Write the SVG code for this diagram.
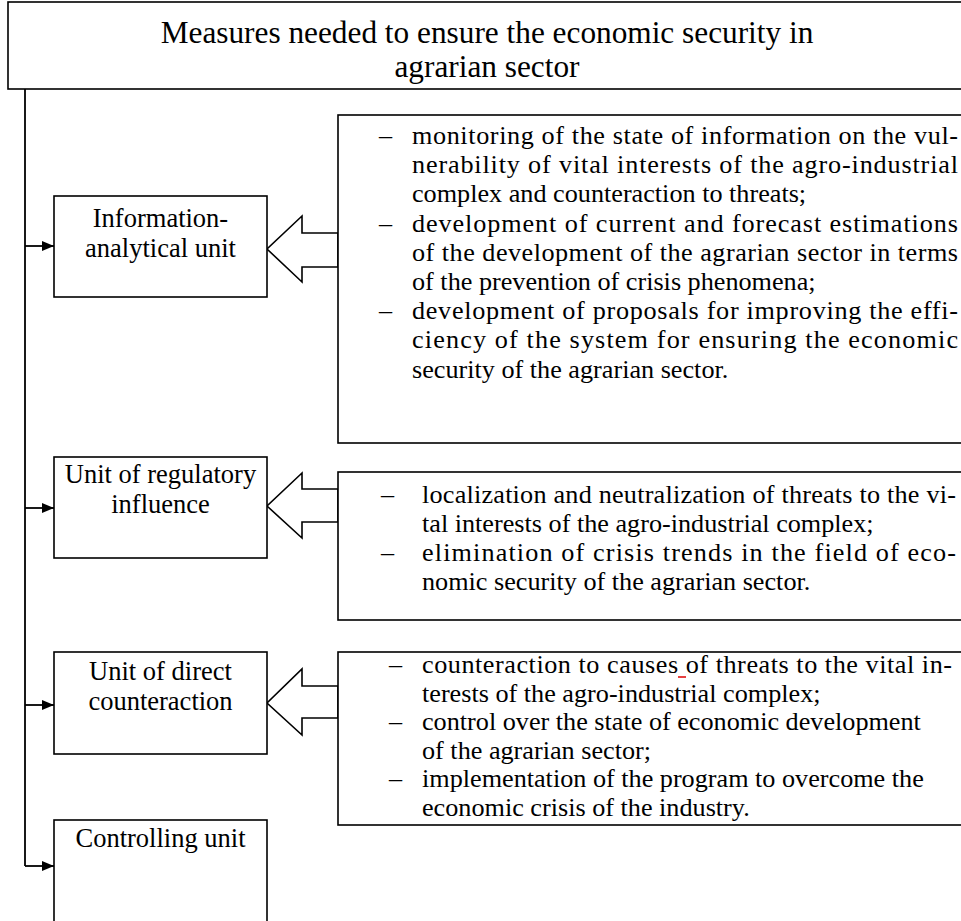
<svg xmlns="http://www.w3.org/2000/svg" width="961" height="921" viewBox="0 0 961 921" font-family="'Liberation Serif', 'DejaVu Serif', serif">
<style>
  .box { fill: #fff; stroke: #000; stroke-width: 1.6; }
  .line { fill: none; stroke: #000; stroke-width: 1.8; }
  .hollow { fill: #fff; stroke: #000; stroke-width: 1.6; stroke-linejoin: miter; }
  text { font-family: 'Liberation Serif', 'DejaVu Serif', serif; fill: #000; }
  .title { font-size: 31.3px; text-anchor: middle; }
  .unit { font-size: 26.5px; text-anchor: middle; }
  .body { font-size: 26.2px; }
</style>
<defs>
  <marker id="ah" markerWidth="12" markerHeight="10" refX="12" refY="5" orient="auto" markerUnits="userSpaceOnUse">
    <path d="M0,0 L12,5 L0,10 Z" fill="#000"/>
  </marker>
</defs>
<rect width="961" height="921" fill="#fff"/>

<g id="title">
  <rect class="box" x="8" y="2" width="962" height="87"/>
  <text class="title" x="487" y="43">Measures needed to ensure the economic security in</text>
  <text class="title" x="487" y="77">agrarian sector</text>
</g>

<g id="connectors">
  <path class="line" d="M25,89 V866"/>
  <path class="line" d="M25,246 H54" marker-end="url(#ah)"/>
  <path class="line" d="M25,508 H54" marker-end="url(#ah)"/>
  <path class="line" d="M25,705 H54" marker-end="url(#ah)"/>
  <path class="line" d="M25,866 H54" marker-end="url(#ah)"/>
  <polygon class="hollow" points="338,233 302,233 302,216 267,249 302,282 302,267 338,267"/>
  <polygon class="hollow" points="338,489 302,489 302,473 267,506 302,538 302,522 338,522"/>
  <polygon class="hollow" points="338,686 302,686 302,669 267,703 302,735 302,718 338,718"/>
</g>

<g id="unit-info">
  <rect class="box" x="54" y="196" width="213" height="101"/>
  <text class="unit" x="160.5" y="227">Information-</text>
  <text class="unit" x="160.5" y="257">analytical unit</text>
</g>

<g id="unit-regulatory">
  <rect class="box" x="54" y="457" width="213" height="101"/>
  <text class="unit" x="160.5" y="483">Unit of regulatory</text>
  <text class="unit" x="160.5" y="513">influence</text>
</g>

<g id="unit-direct">
  <rect class="box" x="54" y="652" width="213" height="102"/>
  <text class="unit" x="160.5" y="680">Unit of direct</text>
  <text class="unit" x="160.5" y="710">counteraction</text>
</g>

<g id="unit-controlling">
  <rect class="box" x="54" y="820" width="213" height="120"/>
  <text class="unit" x="160.5" y="847">Controlling unit</text>
</g>

<g id="measures-info">
  <rect class="box" x="338" y="115" width="640" height="328"/>
  <text class="body" x="379" y="144">–</text>
  <text class="body" x="412" y="144" textLength="546" lengthAdjust="spacing">monitoring of the state of information on the vul-</text>
  <text class="body" x="412" y="173" textLength="546" lengthAdjust="spacing">nerability of vital interests of the agro-industrial</text>
  <text class="body" x="412" y="202">complex and counteraction to threats;</text>
  <text class="body" x="379" y="232">–</text>
  <text class="body" x="412" y="232" textLength="546" lengthAdjust="spacing">development of current and forecast estimations</text>
  <text class="body" x="412" y="261" textLength="546" lengthAdjust="spacing">of the development of the agrarian sector in terms</text>
  <text class="body" x="412" y="290">of the prevention of crisis phenomena;</text>
  <text class="body" x="379" y="319">–</text>
  <text class="body" x="412" y="319" textLength="546" lengthAdjust="spacing">development of proposals for improving the effi-</text>
  <text class="body" x="412" y="348" textLength="546" lengthAdjust="spacing">ciency of the system for ensuring the economic</text>
  <text class="body" x="412" y="378">security of the agrarian sector.</text>
</g>

<g id="measures-regulatory">
  <rect class="box" x="338" y="472" width="640" height="148"/>
  <text class="body" x="381" y="503">–</text>
  <text class="body" x="422" y="503" textLength="534" lengthAdjust="spacing">localization and neutralization of threats to the vi-</text>
  <text class="body" x="422" y="532">tal interests of the agro-industrial complex;</text>
  <text class="body" x="381" y="561">–</text>
  <text class="body" x="422" y="561" textLength="534" lengthAdjust="spacing">elimination of crisis trends in the field of eco-</text>
  <text class="body" x="422" y="590">nomic security of the agrarian sector.</text>
</g>

<g id="measures-direct">
  <rect class="box" x="338" y="652" width="640" height="173"/>
  <text class="body" x="389" y="673">–</text>
  <text class="body" x="422" y="673" textLength="530" lengthAdjust="spacing">counteraction to causes of threats to the vital in-</text>
  <line x1="678" y1="677" x2="686" y2="677" stroke="#d00" stroke-width="1.5"/>
  <text class="body" x="422" y="702">terests of the agro-industrial complex;</text>
  <text class="body" x="389" y="730">–</text>
  <text class="body" x="422" y="730">control over the state of economic development</text>
  <text class="body" x="422" y="759">of the agrarian sector;</text>
  <text class="body" x="389" y="787">–</text>
  <text class="body" x="422" y="787">implementation of the program to overcome the</text>
  <text class="body" x="422" y="816">economic crisis of the industry.</text>
</g>
</svg>
